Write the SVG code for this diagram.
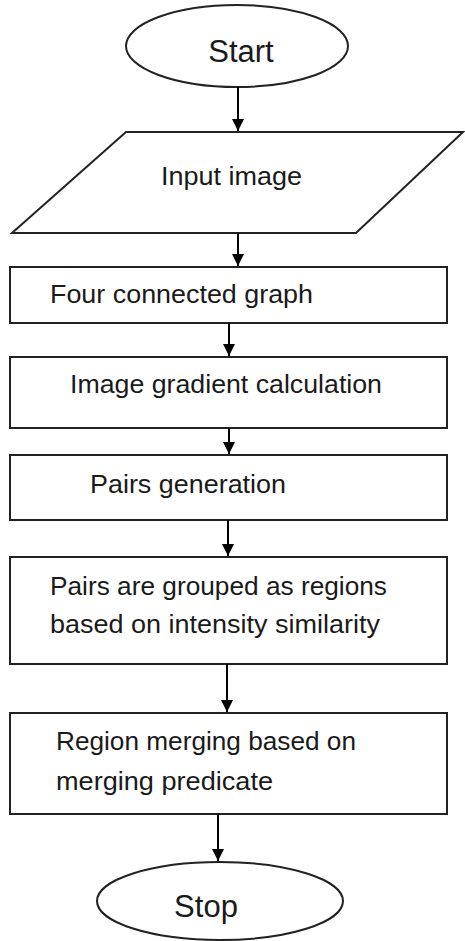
<svg xmlns="http://www.w3.org/2000/svg" width="465" height="941" viewBox="0 0 465 941">
<style>
.shape{fill:#fff;stroke:#222;stroke-width:2}
.lbl{font-family:"Liberation Sans",Arial,sans-serif;fill:#1a1a1a}
.conn line{stroke:#000;stroke-width:2}
</style>
<defs>
<marker id="ah" viewBox="0 0 12 12" refX="12" refY="6" markerWidth="12" markerHeight="12" markerUnits="userSpaceOnUse" orient="auto">
<path d="M0,0 L12,6 L0,12 Z" fill="#000"/>
</marker>
</defs>
<rect width="465" height="941" fill="#fff"/>
<g id="start">
<ellipse class="shape" cx="237" cy="46" rx="111" ry="41"/>
<text class="lbl" x="241" y="62" font-size="31" text-anchor="middle">Start</text>
</g>
<g id="input">
<polygon class="shape" points="126,132 463,132 356,233 12,233"/>
<text class="lbl" x="161" y="185" font-size="26" textLength="141" lengthAdjust="spacingAndGlyphs">Input image</text>
</g>
<g id="four">
<rect class="shape" x="10" y="267" width="437" height="56"/>
<text class="lbl" x="50" y="303" font-size="26" textLength="263" lengthAdjust="spacingAndGlyphs">Four connected graph</text>
</g>
<g id="gradient">
<rect class="shape" x="10" y="357" width="437" height="71"/>
<text class="lbl" x="70" y="393" font-size="26" textLength="312" lengthAdjust="spacingAndGlyphs">Image gradient calculation</text>
</g>
<g id="pairs">
<rect class="shape" x="10" y="455" width="437" height="65"/>
<text class="lbl" x="90" y="493" font-size="26" textLength="196" lengthAdjust="spacingAndGlyphs">Pairs generation</text>
</g>
<g id="grouped">
<rect class="shape" x="10" y="557" width="437" height="107"/>
<text class="lbl" x="50" y="595" font-size="26" textLength="337" lengthAdjust="spacingAndGlyphs">Pairs are grouped as regions</text>
<text class="lbl" x="50" y="633" font-size="26" textLength="330" lengthAdjust="spacingAndGlyphs">based on intensity similarity</text>
</g>
<g id="merging">
<rect class="shape" x="10" y="713" width="437" height="101"/>
<text class="lbl" x="56" y="750" font-size="26" textLength="300" lengthAdjust="spacingAndGlyphs">Region merging based on</text>
<text class="lbl" x="56" y="790" font-size="26" textLength="217" lengthAdjust="spacingAndGlyphs">merging predicate</text>
</g>
<g id="stop">
<ellipse class="shape" cx="220" cy="901" rx="123" ry="39"/>
<text class="lbl" x="206" y="917" font-size="31" text-anchor="middle">Stop</text>
</g>
<g id="connectors" class="conn">
<line x1="238" y1="87" x2="238" y2="131" marker-end="url(#ah)"/>
<line x1="238" y1="233" x2="238" y2="266" marker-end="url(#ah)"/>
<line x1="229" y1="323" x2="229" y2="356" marker-end="url(#ah)"/>
<line x1="229" y1="428" x2="229" y2="454" marker-end="url(#ah)"/>
<line x1="228" y1="520" x2="228" y2="556" marker-end="url(#ah)"/>
<line x1="227" y1="664" x2="227" y2="712" marker-end="url(#ah)"/>
<line x1="218" y1="814" x2="218" y2="861" marker-end="url(#ah)"/>
</g>
</svg>
